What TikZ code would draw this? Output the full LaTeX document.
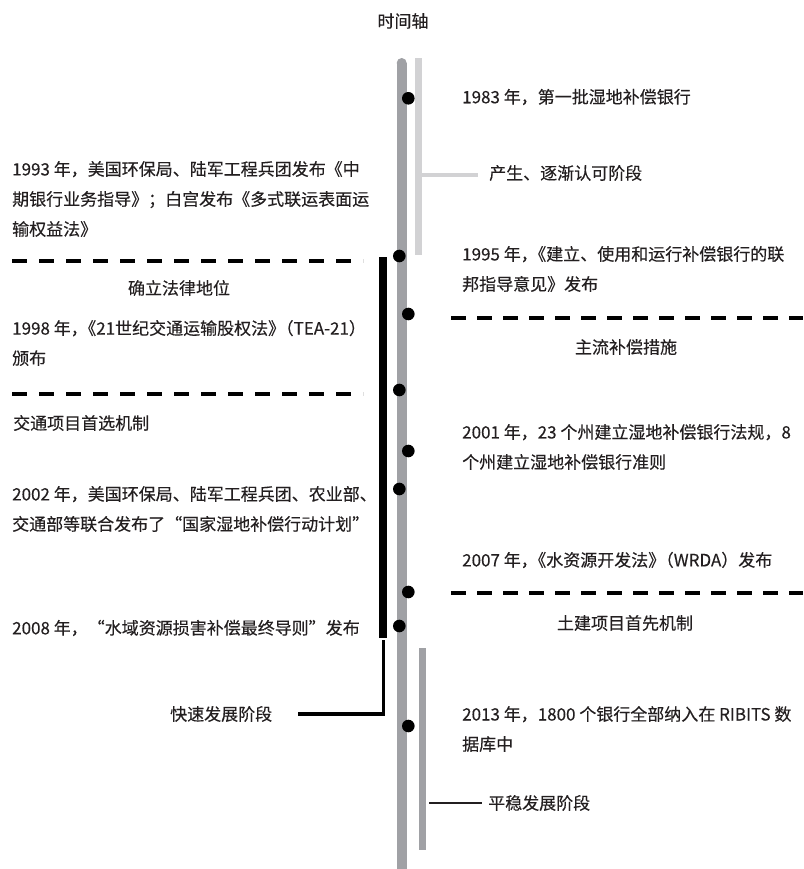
\documentclass[tikz,border=0pt]{standalone}
\usepackage{fontspec}
\setmainfont{Noto Sans CJK SC}[FakeBold=0.3]
\definecolor{axisgray}{HTML}{A0A1A5}
\definecolor{lightbar}{HTML}{D2D2D4}
\definecolor{txt}{HTML}{231F20}
\newcommand{\pc}{\kern-0.5em}
\begin{document}
\begin{tikzpicture}[x=1pt,y=-1pt,
  lbl/.style={anchor=west,inner sep=0pt,align=left,text=txt,font={\fontsize{17}{30}\selectfont}},
  clbl/.style={anchor=center,inner sep=0pt,align=center,text=txt,font={\fontsize{17}{30}\selectfont}},
  dot/.style={circle,fill=black,minimum size=12.6pt,inner sep=0pt},
  sepline/.style={line width=4pt,dash pattern=on 15pt off 12pt},
  sepline2/.style={line width=4pt,dash pattern=on 15pt off 11pt}]
\useasboundingbox (0,0) rectangle (803,869);
% main axis
\fill[axisgray] (396.7,869) rectangle (406.7,63);
\fill[axisgray] (401.7,63) circle (5pt);
% stage bars
\fill[lightbar] (415,58) rectangle (422,255);
\coordinate (lbmid) at (422,175);
\coordinate (lbend) at (478,175);
\draw[lightbar,line width=4.6pt] (lbmid) -- (lbend);
\fill[black] (379.3,257) rectangle (386.8,638);
\coordinate (bk1) at (383.3,640);
\coordinate (bk2) at (383.3,714);
\coordinate (bk3) at (298,714);
\draw[black,line width=3.3pt,line join=miter] (bk1) -- (bk2) -- (bk3);
\fill[axisgray] (419,648) rectangle (426,850);
\coordinate (gb1) at (429,803);
\coordinate (gb2) at (482,803);
\draw[txt,line width=1.5pt] (gb1) -- (gb2);
% dashed separators
\coordinate (s1a) at (12,260.7); \coordinate (s1b) at (363,260.7);
\coordinate (s2a) at (12,394); \coordinate (s2b) at (363,394);
\coordinate (s3a) at (451,318); \coordinate (s3b) at (803,318);
\coordinate (s4a) at (451,593); \coordinate (s4b) at (803,593);
\draw[sepline] (s1a) -- (s1b);
\draw[sepline] (s2a) -- (s2b);
\draw[sepline2] (s3a) -- (s3b);
\draw[sepline2] (s4a) -- (s4b);
% dots
\node[dot] (d1) at (408.3,98.3) {};
\node[dot] (d2) at (399.3,256) {};
\node[dot] (d3) at (408.3,314) {};
\node[dot] (d4) at (399.3,390) {};
\node[dot] (d5) at (408.3,451) {};
\node[dot] (d6) at (399.3,489) {};
\node[dot] (d7) at (408.3,592) {};
\node[dot] (d8) at (399.3,626) {};
\node[dot] (d9) at (408.3,726) {};
% texts
\node[clbl] (title) at (403,21) {时间轴};
\node[lbl] (t1983) at (462,97) {1983 年，第一批湿地补偿银行};
\node[lbl] (stage1) at (489,173) {产生、逐渐认可阶段};
\node[lbl] (t1993) at (12,199) {1993 年，美国环保局、陆军工程兵团发布《中\\期银行业务指导》；白宫发布《多式联运表面运\\输权益法》};
\node[lbl] (t1995) at (462,269) {1995 年，\pc《建立、使用和运行补偿银行的联\\邦指导意见》发布};
\node[clbl] (legal) at (179,288) {确立法律地位};
\node[lbl] (t1998) at (12,343) {1998 年，\pc《21世纪交通运输股权法》\pc（TEA-21）\\颁布};
\node[clbl] (main) at (626,347) {主流补偿措施};
\node[lbl] (traffic) at (13,423) {交通项目首选机制};
\node[lbl] (t2001) at (462,447) {2001 年，23 个州建立湿地补偿银行法规，8\\个州建立湿地补偿银行准则};
\node[lbl] (t2002) at (12,509) {2002 年，美国环保局、陆军工程兵团、农业部、\\交通部等联合发布了“国家湿地补偿行动计划”};
\node[lbl] (t2007) at (462,560) {2007 年，\pc《水资源开发法》\pc（WRDA）发布};
\node[clbl] (civil) at (625,623) {土建项目首先机制};
\node[lbl] (t2008) at (12,628) {2008 年，“水域资源损害补偿最终导则”发布};
\node[lbl] (fast) at (170,714) {快速发展阶段};
\node[lbl] (t2013) at (462,729) {2013 年，1800 个银行全部纳入在 RIBITS 数\\据库中};
\node[lbl] (steady) at (488,803) {平稳发展阶段};
\end{tikzpicture}
\end{document}
